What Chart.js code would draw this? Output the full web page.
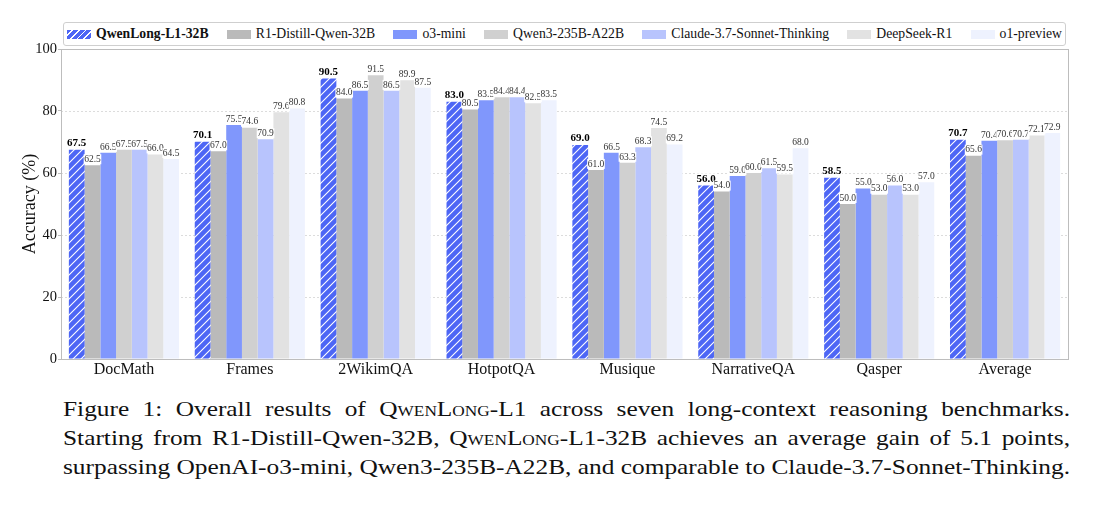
<!DOCTYPE html>
<html>
<head>
<meta charset="utf-8">
<script src="https://cdn.jsdelivr.net/npm/chart.js@4.4.1/dist/chart.umd.min.js"></script>
<style>
  body { margin: 0; background: #fff; width: 1093px; height: 515px; overflow: hidden; font-family: 'Liberation Serif', serif; }
  #wrap { position: absolute; left: 0; top: 0; width: 1093px; height: 385px; }
  #legend {
    position: absolute; left: 63px; top: 22px; width: 995px; height: 22px;
    border: 1px solid #cfcfcf; border-radius: 3px; background: #fff;
    display: flex; align-items: center; justify-content: space-between;
    padding: 0 3px; font-size: 13.7px; color: #111; z-index: 2;
  }
  .item { display: flex; align-items: center; white-space: nowrap; }
  .sw { width: 24px; height: 9px; margin-right: 5px; }
  .item.bold { font-weight: bold; }
  #caption {
    position: absolute; left: 63px; top: 394px;
    font-size: 22px; line-height: 29px; color: #111;
    transform-origin: 0 0;
  }
  #caption div { white-space: nowrap; text-align: justify; text-align-last: justify; }
  #caption span.ln { display: inline-block; }
  .sc { font-variant: small-caps; }
</style>
</head>
<body>
<div id="wrap"><canvas id="chart"></canvas></div>
<div id="legend"></div>
<div id="caption">
  <div>Figure 1: Overall results of <span class="sc">QwenLong</span>-L1 across seven long-context reasoning benchmarks.</div>
  <div>Starting from R1-Distill-Qwen-32B, <span class="sc">QwenLong</span>-L1-32B achieves an average gain of 5.1 points,</div>
  <div>surpassing OpenAI-o3-mini, Qwen3-235B-A22B, and comparable to Claude-3.7-Sonnet-Thinking.</div>
</div>
<script>
const categories = ['DocMath', 'Frames', '2WikimQA', 'HotpotQA', 'Musique', 'NarrativeQA', 'Qasper', 'Average'];
const models = ['QwenLong-L1-32B', 'R1-Distill-Qwen-32B', 'o3-mini', 'Qwen3-235B-A22B', 'Claude-3.7-Sonnet-Thinking', 'DeepSeek-R1', 'o1-preview'];

const qwenLong = [67.5, 70.1, 90.5, 83.0, 69.0, 56.0, 58.5, 70.7];
const r1Distill = [62.5, 67.0, 84.0, 80.5, 61.0, 54.0, 50.0, 65.6];
const o3Mini = [66.5, 75.5, 86.5, 83.5, 66.5, 59.0, 55.0, 70.4];
const qwen3 = [67.5, 74.6, 91.5, 84.4, 63.3, 60.0, 53.0, 70.6];
const claude = [67.5, 70.9, 86.5, 84.4, 68.3, 61.5, 56.0, 70.7];
const deepseek = [66.0, 79.6, 89.9, 82.5, 74.5, 59.5, 53.0, 72.1];
const o1Preview = [64.5, 80.8, 87.5, 83.5, 69.2, 68.0, 57.0, 72.9];

const yTicks = [0, 20, 40, 60, 80, 100];

const COLORS = ['#4d66f5', '#bababa', '#8097fc', '#d0d0d0', '#b8c4fd', '#e2e2e2', '#eef2fe'];
const SERIES = [qwenLong, r1Distill, o3Mini, qwen3, claude, deepseek, o1Preview];
const FONT = "'Liberation Serif', 'Times New Roman', serif";

function hatchPattern(color) {
  const c = document.createElement('canvas');
  c.width = 8; c.height = 8;
  const g = c.getContext('2d');
  g.fillStyle = color;
  g.fillRect(0, 0, 8, 8);
  g.strokeStyle = '#ffffff';
  g.lineWidth = 1.1;
  g.beginPath();
  g.moveTo(-2, 10); g.lineTo(10, -2);
  g.moveTo(-2, 2); g.lineTo(2, -2);
  g.moveTo(6, 10); g.lineTo(10, 6);
  g.stroke();
  return g.createPattern(c, 'repeat');
}

// legend (html)
const legendEl = document.getElementById('legend');
models.forEach((m, i) => {
  const item = document.createElement('div');
  item.className = 'item' + (i === 0 ? ' bold' : '');
  const sw = document.createElement('span');
  sw.className = 'sw';
  sw.style.background = i === 0
    ? 'repeating-linear-gradient(135deg, #4d66f5 0 3.5px, #fff 3.5px 4.7px)'
    : COLORS[i];
  item.appendChild(sw);
  item.appendChild(document.createTextNode(m));
  legendEl.appendChild(item);
});

// caption: the figure text is slightly wide, stretch it to the column width
function fitCaption() {
  const cap = document.getElementById('caption');
  const lines = [...cap.children];
  cap.style.transform = 'none';
  let maxW = 0;
  lines.forEach(d => {
    d.style.textAlignLast = 'left';
    const r = document.createRange();
    r.selectNodeContents(d);
    maxW = Math.max(maxW, r.getBoundingClientRect().width);
  });
  const target = 1007;
  const k = target / maxW;
  cap.style.width = maxW + 'px';
  lines.forEach(d => { d.style.textAlignLast = 'justify'; });
  cap.style.transform = `scaleX(${k})`;
}
fitCaption();
if (document.fonts) document.fonts.ready.then(fitCaption);

// frame + dotted grid
const framePlugin = {
  id: 'frame',
  beforeDatasetsDraw(chart) {
    const { ctx, chartArea: a, scales: { y } } = chart;
    ctx.save();
    ctx.strokeStyle = '#dcdcdc';
    ctx.lineWidth = 1;
    ctx.setLineDash([2, 2]);
    yTicks.slice(1, -1).forEach(v => {
      const py = Math.round(y.getPixelForValue(v)) + 0.5;
      ctx.beginPath(); ctx.moveTo(a.left, py); ctx.lineTo(a.right, py); ctx.stroke();
    });
    ctx.restore();
  },
  afterDraw(chart) {
    const { ctx, chartArea: a } = chart;
    ctx.save();
    ctx.strokeStyle = '#bdbdbd';
    ctx.lineWidth = 1;
    ctx.strokeRect(Math.round(a.left) + 0.5, Math.round(a.top) + 0.5, Math.round(a.right - a.left), Math.round(a.bottom - a.top));
    ctx.restore();
  },
};

// value labels above bars
const labelPlugin = {
  id: 'valueLabels',
  afterDatasetsDraw(chart) {
    const { ctx } = chart;
    ctx.save();
    ctx.textAlign = 'center';
    ctx.textBaseline = 'bottom';
    chart.data.datasets.forEach((ds, di) => {
      const meta = chart.getDatasetMeta(di);
      ctx.font = di === 0 ? `bold 11px ${FONT}` : `9.5px ${FONT}`;
      meta.data.forEach((el, i) => {
        const txt = ds.data[i].toFixed(1);
        const w = ctx.measureText(txt).width;
        const h = di === 0 ? 11 : 10;
        ctx.fillStyle = '#ffffff';
        ctx.fillRect(el.x - w / 2 - 0.5, el.y - h - 1, w + 1, h);
        ctx.fillStyle = di === 0 ? '#000' : '#333';
        ctx.fillText(txt, el.x, el.y - 1);
      });
    });
    ctx.restore();
  },
};

const ctx = document.getElementById('chart');
new Chart(ctx, {
  type: 'bar',
  data: {
    labels: categories,
    datasets: SERIES.map((data, i) => ({
      label: models[i],
      data,
      backgroundColor: i === 0 ? hatchPattern(COLORS[0]) : COLORS[i],
      borderWidth: 0,
      categoryPercentage: 0.875,
      barPercentage: 1.0,
    })),
  },
  options: {
    responsive: true,
    maintainAspectRatio: false,
    animation: false,
    devicePixelRatio: 1,
    layout: { padding: { top: 49, right: 25, bottom: 0, left: 0 } },
    plugins: { legend: { display: false }, tooltip: { enabled: false } },
    scales: {
      x: {
        grid: { display: false, drawTicks: false },
        border: { display: false },
        ticks: { color: '#111', font: { family: FONT, size: 16 }, padding: 1, maxRotation: 0 },
        afterFit(s) { s.height = 26; },
      },
      y: {
        min: 0,
        max: 100,
        afterBuildTicks(s) { s.ticks = yTicks.map(v => ({ value: v })); },
        grid: { drawOnChartArea: false, tickLength: 3, color: '#bdbdbd' },
        border: { display: false },
        ticks: { color: '#111', font: { family: FONT, size: 14.5 }, padding: 1 },
        title: { display: true, text: 'Accuracy (%)', color: '#111', font: { family: FONT, size: 18 }, padding: { top: 19, bottom: 0 } },
        afterFit(s) { s.width = 61; },
      },
    },
  },
  plugins: [framePlugin, labelPlugin],
});
</script>
</body>
</html>
